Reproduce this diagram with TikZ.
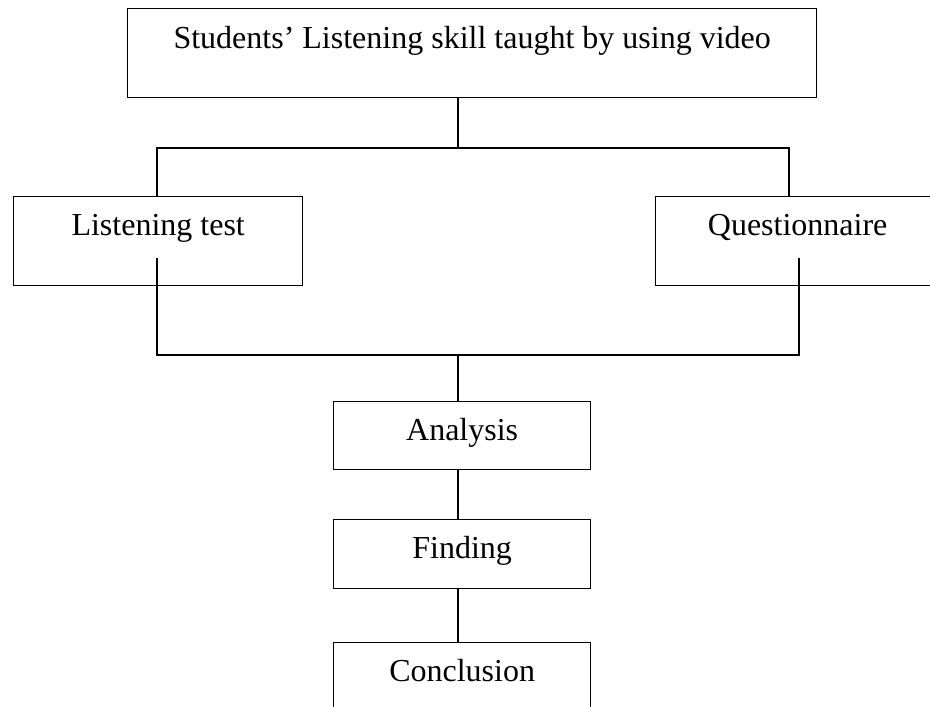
\documentclass[tikz,border=0pt]{standalone}
\usepackage{fontspec}
\setmainfont{Liberation Serif}
\begin{document}
\begin{tikzpicture}[x=0.75pt,y=-0.75pt,line width=1pt,
  box/.style={draw,line width=1pt,rectangle,anchor=north west,inner xsep=0pt,inner ysep=0pt,
    text height=29.25pt,font=\fontsize{24}{28}\selectfont},
  link/.style={draw,line width=1pt}]
\clip (0,0) rectangle (930,706);
% boxes
\node[box,minimum width=516.75pt,text height=30pt,text depth=36.75pt] (top) at (127,8) {Students’ Listening skill taught by using video};
\node[box,minimum width=216.75pt,text depth=37.5pt] (lt) at (13,196) {Listening test};
\node[box,minimum width=213pt,text depth=37.5pt] (q) at (655,196) {Questionnaire};
\node[box,minimum width=192.75pt,text depth=21.75pt] (an) at (333,401) {Analysis};
\node[box,minimum width=192.75pt,text depth=22.5pt] (fi) at (333,519) {Finding};
\node[box,minimum width=192.75pt,text depth=22.5pt] (co) at (333,642) {Conclusion};
% junction points
\coordinate (j1) at (458,148);
\coordinate (tl) at (157,148);
\coordinate (tr) at (789,148);
\coordinate (bl) at (157,258);
\coordinate (br) at (799,258);
\coordinate (j2) at (458,355);
% connectors
\draw[link] (top.south -| j1) -- (j1);
\draw[link] (lt.north -| tl) -- (tl) -- (tr) -- (q.north -| tr);
\draw[link] (bl) |- (j2) -| (br);
\draw[link] (j2) -- (an.north -| j2);
\draw[link] (an.south -| j2) -- (fi.north -| j2);
\draw[link] (fi.south -| j2) -- (co.north -| j2);
\end{tikzpicture}
\end{document}
